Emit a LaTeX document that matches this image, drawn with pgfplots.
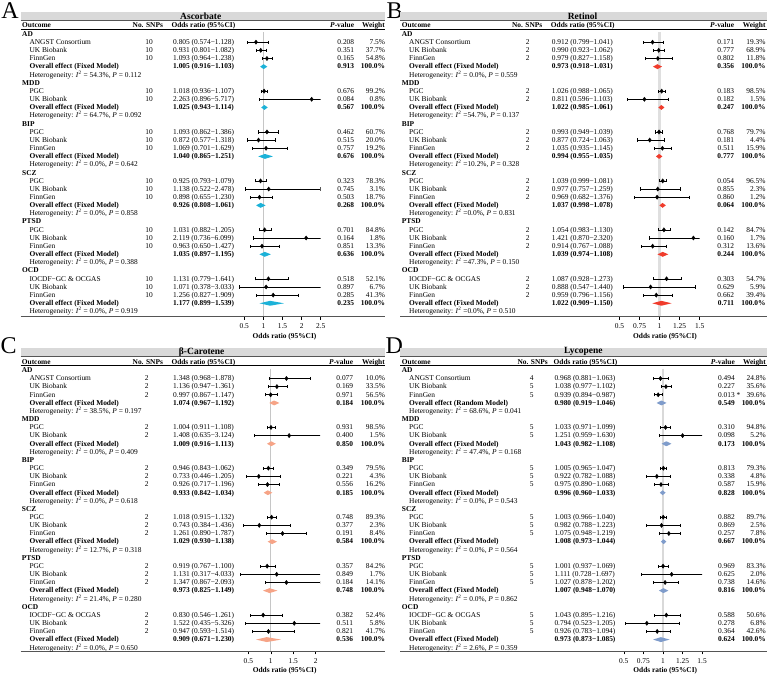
\documentclass[border=0pt]{standalone}
\usepackage{pgfplots}
\pgfplotsset{compat=1.18}
\usepackage{pgfplotstable}
\usepackage{fontspec}
\setmainfont{Liberation Serif}

\definecolor{cA}{HTML}{1CB2D8}
\definecolor{cB}{HTML}{F03C2C}
\definecolor{cC}{HTML}{F6A487}
\definecolor{cD}{HTML}{7F9CCB}
\definecolor{barg}{HTML}{D9D9D9}
\definecolor{rul}{HTML}{555555}

\newcommand\fs{\fontsize{7.4}{8}\selectfont}

\pgfplotsset{
 fp/.style={anchor=north west, scale only axis, axis x line*=bottom, axis y line=none,
   x axis line style={draw=none}, tick align=outside, major tick length=2.6pt,
   xtick style={black,line width=0.5pt}, ytick=\empty, tick label style={font=\fs},
   /pgf/number format/assume math mode=true, clip=true, xticklabel style={yshift=-0.5pt}},
 studies/.style={only marks, mark=diamond*, mark size=2.1pt, black,
   error bars/.cd, x dir=both, x explicit,
   error bar style={line width=0.6pt, black},
   error mark options={rotate=90, black, mark size=1.6pt, line width=0.6pt}},
}
\newcommand\dia[7]{\addplot[fill=#7,draw=none] coordinates {(#5,#1) (#4,#2) (#6,#1) (#4,#3)};}
\newcommand\studplot[1]{\addplot[studies] table[x=or, y=r, x error plus expr=\thisrow{hi}-\thisrow{or}, x error minus expr=\thisrow{or}-\thisrow{lo}] {#1};}

% ---------- data ----------
\pgfplotstableread{
r or lo hi
-1 0.805 0.574 1.128
-2 0.931 0.801 1.082
-3 1.093 0.964 1.238
-7 1.018 0.936 1.107
-8 2.263 0.896 5.717
-12 1.093 0.862 1.386
-13 0.872 0.577 1.318
-14 1.069 0.701 1.629
-18 0.925 0.793 1.079
-19 1.138 0.522 2.478
-20 0.898 0.655 1.230
-24 1.031 0.882 1.205
-25 2.119 0.736 6.099
-26 0.963 0.650 1.427
-30 1.131 0.779 1.641
-31 1.071 0.378 3.033
-32 1.256 0.827 1.909
}\studA
\pgfplotstableread{
r or lo hi
-1 0.912 0.799 1.041
-2 0.990 0.923 1.062
-3 0.979 0.827 1.158
-7 1.026 0.988 1.065
-8 0.811 0.596 1.103
-12 0.993 0.949 1.039
-13 0.877 0.724 1.063
-14 1.035 0.935 1.145
-18 1.039 0.999 1.081
-19 0.977 0.757 1.259
-20 0.969 0.682 1.376
-24 1.054 0.983 1.130
-25 1.421 0.870 2.320
-26 0.914 0.767 1.088
-30 1.087 0.928 1.273
-31 0.888 0.547 1.440
-32 0.959 0.796 1.156
}\studB
\pgfplotstableread{
r or lo hi
-1 1.348 0.968 1.878
-2 1.136 0.947 1.361
-3 0.997 0.867 1.147
-7 1.004 0.911 1.108
-8 1.408 0.635 3.124
-12 0.946 0.843 1.062
-13 0.733 0.446 1.205
-14 0.926 0.717 1.196
-18 1.018 0.915 1.132
-19 0.743 0.384 1.436
-20 1.261 0.890 1.787
-24 0.919 0.767 1.100
-25 1.131 0.317 4.033
-26 1.347 0.867 2.093
-30 0.830 0.546 1.261
-31 1.522 0.435 5.326
-32 0.947 0.593 1.514
}\studC
\pgfplotstableread{
r or lo hi
-1 0.968 0.881 1.063
-2 1.038 0.977 1.102
-3 0.939 0.894 0.987
-7 1.033 0.971 1.099
-8 1.251 0.959 1.630
-12 1.005 0.965 1.047
-13 0.922 0.782 1.088
-14 0.975 0.890 1.068
-18 1.003 0.966 1.040
-19 0.982 0.788 1.223
-20 1.075 0.948 1.219
-24 1.001 0.937 1.069
-25 1.111 0.728 1.697
-26 1.027 0.878 1.202
-30 1.043 0.895 1.216
-31 0.794 0.523 1.205
-32 0.926 0.783 1.094
}\studD

% ---------- text helpers ----------
\newcommand\setp[7]{\def\cG{#1}\def\cN{#2}\def\cS{#3}\def\cO{#4}\def\cP{#5}\def\cW{#6}\def\yB{#7}}
\newcommand\orr[3]{#1 (#2−#3)}
\newcommand\grp[2]{\node[anchor=mid west,font=\fs\bfseries] at (\cG,{\yB+8.16*#1}) {#2};}
\newcommand\st[6]{%
 \node[anchor=mid west] at (\cN,{\yB+8.16*#1}) {#2};
 \node[anchor=mid] at (\cS,{\yB+8.16*#1}) {#3};
 \node[anchor=mid west] at (\cO,{\yB+8.16*#1}) {#4};
 \node[anchor=mid east] at (\cP,{\yB+8.16*#1}) {#5};
 \node[anchor=mid east] at (\cW,{\yB+8.16*#1}) {#6};}
\newcommand\ov[4]{%
 \node[anchor=mid west,font=\fs\bfseries] at (\cN,{\yB+8.16*#1}) {Overall effect (#2 Model)};
 \node[anchor=mid west,font=\fs\bfseries] at (\cO,{\yB+8.16*#1}) {#3};
 \node[anchor=mid east,font=\fs\bfseries] at (\cP,{\yB+8.16*#1}) {#4};
 \node[anchor=mid east,font=\fs\bfseries] at (\cW,{\yB+8.16*#1}) {100.0\%};}
\newcommand\het[3]{\node[anchor=mid west] at (\cN,{\yB+8.16*#1}) {Heterogeneity: \textit{I}\textsuperscript{2}#2, \textit{P} = #3};}
% header: y, xOutcome, xSNPs(center), xOR, xP(right), xW(right)
\newcommand\hdr[6]{%
 \node[anchor=mid west,font=\fs\bfseries] at (#2,#1) {Outcome};
 \node[anchor=mid,font=\fs\bfseries] at (#3,#1) {No. SNPs};
 \node[anchor=mid west,font=\fs\bfseries] at (#4,#1) {Odds ratio (95\%CI)};
 \node[anchor=mid east,font=\fs\bfseries] at (#5,#1) {\textit{P}-value};
 \node[anchor=mid east,font=\fs\bfseries] at (#6,#1) {Weight};}
% frame: x0,x1,yoff,title,titlex,bottom rule y
\newcommand\frm[6]{%
 \fill[barg] (#1,{#3+11.7}) rectangle (#2,{#3+20.4});
 \draw[rul,line width=0.9pt] (#1,{#3+20.7}) -- (#2,{#3+20.7});
 \node[font=\fontsize{9.5}{10}\selectfont\bfseries] at (#5,{#3+15.9}) {#4};
 \draw[black,line width=0.45pt] (#1,{#3+29.3}) -- (#2,{#3+29.3});
 \draw[rul,line width=0.9pt] (#1,#6) -- (#2,#6);}

\begin{document}
\begin{tikzpicture}
\path[use as bounding box] (0pt,0pt) rectangle (771pt,-678pt);

% ===== Panel A axis =====
\begin{axis}[fp, at={(236.66pt,-32.37pt)}, width=84.04pt, height=284.62pt,
  xmin=0.3, xmax=2.5, ymin=-34.68, ymax=0.2, xtick={0.5,1,1.5,2,2.5}]
\addplot[gray!45, line width=0.8pt] coordinates {(1,0.2) (1,-34.68)};
\dia{-4}{-3.7}{-4.3}{1.005}{0.916}{1.103}{cA}
\dia{-9}{-8.7}{-9.3}{1.025}{0.943}{1.114}{cA}
\dia{-15}{-14.7}{-15.3}{1.040}{0.865}{1.251}{cA}
\dia{-21}{-20.7}{-21.3}{0.926}{0.808}{1.061}{cA}
\dia{-27}{-26.7}{-27.3}{1.035}{0.897}{1.195}{cA}
\dia{-33}{-32.7}{-33.3}{1.177}{0.899}{1.539}{cA}
\studplot{\studA}
\end{axis}

% ===== Panel B axis =====
\begin{axis}[fp, at={(615.4pt,-32.37pt)}, width=84.33pt, height=284.62pt,
  xmin=0.45, xmax=1.5, ymin=-34.68, ymax=0.2, xtick={0.5,0.75,1,1.25,1.5}]
\addplot[gray!25, line width=2.4pt] coordinates {(1,0.2) (1,-34.68)};
\dia{-4}{-3.7}{-4.3}{0.973}{0.918}{1.031}{cB}
\dia{-9}{-8.7}{-9.3}{1.022}{0.985}{1.061}{cB}
\dia{-15}{-14.7}{-15.3}{0.994}{0.955}{1.035}{cB}
\dia{-21}{-20.7}{-21.3}{1.037}{0.998}{1.078}{cB}
\dia{-27}{-26.7}{-27.3}{1.039}{0.974}{1.108}{cB}
\dia{-33}{-32.7}{-33.3}{1.022}{0.909}{1.150}{cB}
\studplot{\studB}
\end{axis}

% ===== Panel C axis =====
\begin{axis}[fp, at={(237.1pt,-368.67pt)}, width=83.12pt, height=283.15pt,
  xmin=0.25, xmax=2.1, ymin=-34.5, ymax=0.2, xtick={0.5,1,1.5,2}]
\addplot[gray!45, line width=0.8pt] coordinates {(1,0.2) (1,-34.5)};
\dia{-4}{-3.7}{-4.3}{1.074}{0.967}{1.192}{cC}
\dia{-9}{-8.7}{-9.3}{1.009}{0.916}{1.113}{cC}
\dia{-15}{-14.7}{-15.3}{0.933}{0.842}{1.034}{cC}
\dia{-21}{-20.7}{-21.3}{1.029}{0.930}{1.138}{cC}
\dia{-27}{-26.7}{-27.3}{0.973}{0.825}{1.149}{cC}
\dia{-33}{-32.7}{-33.3}{0.909}{0.671}{1.230}{cC}
\studplot{\studC}
\end{axis}

% ===== Panel D axis =====
\begin{axis}[fp, at={(619.9pt,-368.67pt)}, width=82.2pt, height=283.15pt,
  xmin=0.45, xmax=1.5, ymin=-34.5, ymax=0.2, xtick={0.5,0.75,1,1.25,1.5}]
\addplot[gray!30, line width=1.8pt] coordinates {(1,0.2) (1,-34.5)};
\dia{-4}{-3.7}{-4.3}{0.980}{0.919}{1.046}{cD}
\dia{-9}{-8.7}{-9.3}{1.043}{0.982}{1.108}{cD}
\dia{-15}{-14.7}{-15.3}{0.996}{0.960}{1.033}{cD}
\dia{-21}{-20.7}{-21.3}{1.008}{0.973}{1.044}{cD}
\dia{-27}{-26.7}{-27.3}{1.007}{0.948}{1.070}{cD}
\dia{-33}{-32.7}{-33.3}{0.973}{0.873}{1.085}{cD}
\studplot{\studD}
\end{axis}

\begin{scope}[x=1pt,y=-1pt,every node/.style={inner sep=0pt,font=\fs}]
% letters
\node[anchor=base west,font=\fontsize{24}{24}\selectfont] at (1.2,18.2) {A};
\node[anchor=base west,font=\fontsize{24}{24}\selectfont] at (386.3,18.2) {B};
\node[anchor=base west,font=\fontsize{24}{24}\selectfont] at (0.5,353.5) {C};
\node[anchor=base west,font=\fontsize{24}{24}\selectfont] at (385.5,353.5) {D};

% frames
\frm{20.7}{385}{0}{Ascorbate}{200.8}{316.9}
\frm{400}{766.7}{0}{Retinol}{582.6}{316.9}
\frm{20.7}{385}{336}{β-Carotene}{201.7}{651.8}
\frm{400}{766.7}{336}{Lycopene}{583.3}{651.8}

% axis labels
\node[font=\fs\bfseries] at (284.5,336.4) {Odds ratio (95\%CI)};
\node[font=\fs\bfseries] at (665,336.4) {Odds ratio (95\%CI)};
\node[font=\fs\bfseries] at (284.7,670.8) {Odds ratio (95\%CI)};
\node[font=\fs\bfseries] at (665.3,670.8) {Odds ratio (95\%CI)};

% ===== Panel A text =====
\hdr{25.4}{22}{147.8}{171.3}{354.3}{385}
\setp{22}{29.3}{149}{173}{354.3}{385.2}{34}
\grp{0}{AD}
\st{1}{ANGST Consortium}{10}{\orr{0.805}{0.574}{1.128}}{0.208}{7.5\%}
\st{2}{UK Biobank}{10}{\orr{0.931}{0.801}{1.082}}{0.351}{37.7\%}
\st{3}{FinnGen}{10}{\orr{1.093}{0.964}{1.238}}{0.165}{54.8\%}
\ov{4}{Fixed}{\orr{1.005}{0.916}{1.103}}{0.913}
\het{5}{ = 54.3\%}{0.112}
\grp{6}{MDD}
\st{7}{PGC}{10}{\orr{1.018}{0.936}{1.107}}{0.676}{99.2\%}
\st{8}{UK Biobank}{10}{\orr{2.263}{0.896}{5.717}}{0.084}{0.8\%}
\ov{9}{Fixed}{\orr{1.025}{0.943}{1.114}}{0.567}
\het{10}{ = 64.7\%}{0.092}
\grp{11}{BIP}
\st{12}{PGC}{10}{\orr{1.093}{0.862}{1.386}}{0.462}{60.7\%}
\st{13}{UK Biobank}{10}{\orr{0.872}{0.577}{1.318}}{0.515}{20.0\%}
\st{14}{FinnGen}{10}{\orr{1.069}{0.701}{1.629}}{0.757}{19.2\%}
\ov{15}{Fixed}{\orr{1.040}{0.865}{1.251}}{0.676}
\het{16}{ = 0.0\%}{0.642}
\grp{17}{SCZ}
\st{18}{PGC}{10}{\orr{0.925}{0.793}{1.079}}{0.323}{78.3\%}
\st{19}{UK Biobank}{10}{\orr{1.138}{0.522}{2.478}}{0.745}{3.1\%}
\st{20}{FinnGen}{10}{\orr{0.898}{0.655}{1.230}}{0.503}{18.7\%}
\ov{21}{Fixed}{\orr{0.926}{0.808}{1.061}}{0.268}
\het{22}{ = 0.0\%}{0.858}
\grp{23}{PTSD}
\st{24}{PGC}{10}{\orr{1.031}{0.882}{1.205}}{0.701}{84.8\%}
\st{25}{UK Biobank}{10}{\orr{2.119}{0.736}{6.099}}{0.164}{1.8\%}
\st{26}{FinnGen}{10}{\orr{0.963}{0.650}{1.427}}{0.851}{13.3\%}
\ov{27}{Fixed}{\orr{1.035}{0.897}{1.195}}{0.636}
\het{28}{ = 0.0\%}{0.388}
\grp{29}{OCD}
\st{30}{IOCDF−GC \& OCGAS}{10}{\orr{1.131}{0.779}{1.641}}{0.518}{52.1\%}
\st{31}{UK Biobank}{10}{\orr{1.071}{0.378}{3.033}}{0.897}{6.7\%}
\st{32}{FinnGen}{10}{\orr{1.256}{0.827}{1.909}}{0.285}{41.3\%}
\ov{33}{Fixed}{\orr{1.177}{0.899}{1.539}}{0.235}
\het{34}{ = 0.0\%}{0.919}

% ===== Panel B text =====
\hdr{25.4}{401.7}{527.2}{550.7}{734.3}{765.7}
\setp{401.7}{409}{527.7}{551.7}{734.3}{765.7}{34}
\grp{0}{AD}
\st{1}{ANGST Consortium}{2}{\orr{0.912}{0.799}{1.041}}{0.171}{19.3\%}
\st{2}{UK Biobank}{2}{\orr{0.990}{0.923}{1.062}}{0.777}{68.9\%}
\st{3}{FinnGen}{2}{\orr{0.979}{0.827}{1.158}}{0.802}{11.8\%}
\ov{4}{Fixed}{\orr{0.973}{0.918}{1.031}}{0.356}
\het{5}{ = 0.0\%}{0.559}
\grp{6}{MDD}
\st{7}{PGC}{2}{\orr{1.026}{0.988}{1.065}}{0.183}{98.5\%}
\st{8}{UK Biobank}{2}{\orr{0.811}{0.596}{1.103}}{0.182}{1.5\%}
\ov{9}{Fixed}{\orr{1.022}{0.985}{1.061}}{0.247}
\het{10}{ =54.7\%}{0.137}
\grp{11}{BIP}
\st{12}{PGC}{2}{\orr{0.993}{0.949}{1.039}}{0.768}{79.7\%}
\st{13}{UK Biobank}{2}{\orr{0.877}{0.724}{1.063}}{0.181}{4.4\%}
\st{14}{FinnGen}{2}{\orr{1.035}{0.935}{1.145}}{0.511}{15.9\%}
\ov{15}{Fixed}{\orr{0.994}{0.955}{1.035}}{0.777}
\het{16}{ =10.2\%}{0.328}
\grp{17}{SCZ}
\st{18}{PGC}{2}{\orr{1.039}{0.999}{1.081}}{0.054}{96.5\%}
\st{19}{UK Biobank}{2}{\orr{0.977}{0.757}{1.259}}{0.855}{2.3\%}
\st{20}{FinnGen}{2}{\orr{0.969}{0.682}{1.376}}{0.860}{1.2\%}
\ov{21}{Fixed}{\orr{1.037}{0.998}{1.078}}{0.064}
\het{22}{ =0.0\%}{0.831}
\grp{23}{PTSD}
\st{24}{PGC}{2}{\orr{1.054}{0.983}{1.130}}{0.142}{84.7\%}
\st{25}{UK Biobank}{2}{\orr{1.421}{0.870}{2.320}}{0.160}{1.7\%}
\st{26}{FinnGen}{2}{\orr{0.914}{0.767}{1.088}}{0.312}{13.6\%}
\ov{27}{Fixed}{\orr{1.039}{0.974}{1.108}}{0.244}
\het{28}{ =47.3\%}{0.150}
\grp{29}{OCD}
\st{30}{IOCDF−GC \& OCGAS}{2}{\orr{1.087}{0.928}{1.273}}{0.303}{54.7\%}
\st{31}{UK Biobank}{2}{\orr{0.888}{0.547}{1.440}}{0.629}{5.9\%}
\st{32}{FinnGen}{2}{\orr{0.959}{0.796}{1.156}}{0.662}{39.4\%}
\ov{33}{Fixed}{\orr{1.022}{0.909}{1.150}}{0.711}
\het{34}{ =0.0\%}{0.510}

% ===== Panel C text =====
\hdr{362.6}{21.7}{147.8}{171.3}{353.3}{385}
\setp{21.7}{29.3}{146.7}{173}{353.3}{385.2}{370.3}
\grp{0}{AD}
\st{1}{ANGST Consortium}{2}{\orr{1.348}{0.968}{1.878}}{0.077}{10.0\%}
\st{2}{UK Biobank}{2}{\orr{1.136}{0.947}{1.361}}{0.169}{33.5\%}
\st{3}{FinnGen}{2}{\orr{0.997}{0.867}{1.147}}{0.971}{56.5\%}
\ov{4}{Fixed}{\orr{1.074}{0.967}{1.192}}{0.184}
\het{5}{ = 38.5\%}{0.197}
\grp{6}{MDD}
\st{7}{PGC}{2}{\orr{1.004}{0.911}{1.108}}{0.931}{98.5\%}
\st{8}{UK Biobank}{2}{\orr{1.408}{0.635}{3.124}}{0.400}{1.5\%}
\ov{9}{Fixed}{\orr{1.009}{0.916}{1.113}}{0.850}
\het{10}{ = 0.0\%}{0.409}
\grp{11}{BIP}
\st{12}{PGC}{2}{\orr{0.946}{0.843}{1.062}}{0.349}{79.5\%}
\st{13}{UK Biobank}{2}{\orr{0.733}{0.446}{1.205}}{0.221}{4.3\%}
\st{14}{FinnGen}{2}{\orr{0.926}{0.717}{1.196}}{0.556}{16.2\%}
\ov{15}{Fixed}{\orr{0.933}{0.842}{1.034}}{0.185}
\het{16}{ = 0.0\%}{0.618}
\grp{17}{SCZ}
\st{18}{PGC}{2}{\orr{1.018}{0.915}{1.132}}{0.748}{89.3\%}
\st{19}{UK Biobank}{2}{\orr{0.743}{0.384}{1.436}}{0.377}{2.3\%}
\st{20}{FinnGen}{2}{\orr{1.261}{0.890}{1.787}}{0.191}{8.4\%}
\ov{21}{Fixed}{\orr{1.029}{0.930}{1.138}}{0.584}
\het{22}{ = 12.7\%}{0.318}
\grp{23}{PTSD}
\st{24}{PGC}{2}{\orr{0.919}{0.767}{1.100}}{0.357}{84.2\%}
\st{25}{UK Biobank}{2}{\orr{1.131}{0.317}{4.033}}{0.849}{1.7\%}
\st{26}{FinnGen}{2}{\orr{1.347}{0.867}{2.093}}{0.184}{14.1\%}
\ov{27}{Fixed}{\orr{0.973}{0.825}{1.149}}{0.748}
\het{28}{ = 21.4\%}{0.280}
\grp{29}{OCD}
\st{30}{IOCDF−GC \& OCGAS}{2}{\orr{0.830}{0.546}{1.261}}{0.382}{52.4\%}
\st{31}{UK Biobank}{2}{\orr{1.522}{0.435}{5.326}}{0.511}{5.8\%}
\st{32}{FinnGen}{2}{\orr{0.947}{0.593}{1.514}}{0.821}{41.7\%}
\ov{33}{Fixed}{\orr{0.909}{0.671}{1.230}}{0.536}
\het{34}{ = 0.0\%}{0.650}

% ===== Panel D text =====
\hdr{362.6}{401.7}{532.7}{553.5}{735}{766}
\setp{401.7}{409}{531.7}{554.3}{735}{766}{370.3}
\grp{0}{AD}
\st{1}{ANGST Consortium}{4}{\orr{0.968}{0.881}{1.063}}{0.494}{24.8\%}
\st{2}{UK Biobank}{5}{\orr{1.038}{0.977}{1.102}}{0.227}{35.6\%}
\st{3}{FinnGen}{5}{\orr{0.939}{0.894}{0.987}}{0.013\rlap{ *}}{39.6\%}
\ov{4}{Random}{\orr{0.980}{0.919}{1.046}}{0.549}
\het{5}{ = 68.6\%}{0.041}
\grp{6}{MDD}
\st{7}{PGC}{5}{\orr{1.033}{0.971}{1.099}}{0.310}{94.8\%}
\st{8}{UK Biobank}{5}{\orr{1.251}{0.959}{1.630}}{0.098}{5.2\%}
\ov{9}{Fixed}{\orr{1.043}{0.982}{1.108}}{0.173}
\het{10}{ = 47.4\%}{0.168}
\grp{11}{BIP}
\st{12}{PGC}{5}{\orr{1.005}{0.965}{1.047}}{0.813}{79.3\%}
\st{13}{UK Biobank}{5}{\orr{0.922}{0.782}{1.088}}{0.338}{4.8\%}
\st{14}{FinnGen}{5}{\orr{0.975}{0.890}{1.068}}{0.587}{15.9\%}
\ov{15}{Fixed}{\orr{0.996}{0.960}{1.033}}{0.828}
\het{16}{ = 0.0\%}{0.543}
\grp{17}{SCZ}
\st{18}{PGC}{5}{\orr{1.003}{0.966}{1.040}}{0.882}{89.7\%}
\st{19}{UK Biobank}{5}{\orr{0.982}{0.788}{1.223}}{0.869}{2.5\%}
\st{20}{FinnGen}{5}{\orr{1.075}{0.948}{1.219}}{0.257}{7.8\%}
\ov{21}{Fixed}{\orr{1.008}{0.973}{1.044}}{0.667}
\het{22}{ = 0.0\%}{0.564}
\grp{23}{PTSD}
\st{24}{PGC}{5}{\orr{1.001}{0.937}{1.069}}{0.969}{83.3\%}
\st{25}{UK Biobank}{5}{\orr{1.111}{0.728}{1.697}}{0.625}{2.0\%}
\st{26}{FinnGen}{5}{\orr{1.027}{0.878}{1.202}}{0.738}{14.6\%}
\ov{27}{Fixed}{\orr{1.007}{0.948}{1.070}}{0.816}
\het{28}{ = 0.0\%}{0.862}
\grp{29}{OCD}
\st{30}{IOCDF−GC \& OCGAS}{5}{\orr{1.043}{0.895}{1.216}}{0.588}{50.6\%}
\st{31}{UK Biobank}{5}{\orr{0.794}{0.523}{1.205}}{0.278}{6.8\%}
\st{32}{FinnGen}{5}{\orr{0.926}{0.783}{1.094}}{0.364}{42.6\%}
\ov{33}{Fixed}{\orr{0.973}{0.873}{1.085}}{0.624}
\het{34}{ = 2.6\%}{0.359}
\end{scope}
\end{tikzpicture}
\end{document}
